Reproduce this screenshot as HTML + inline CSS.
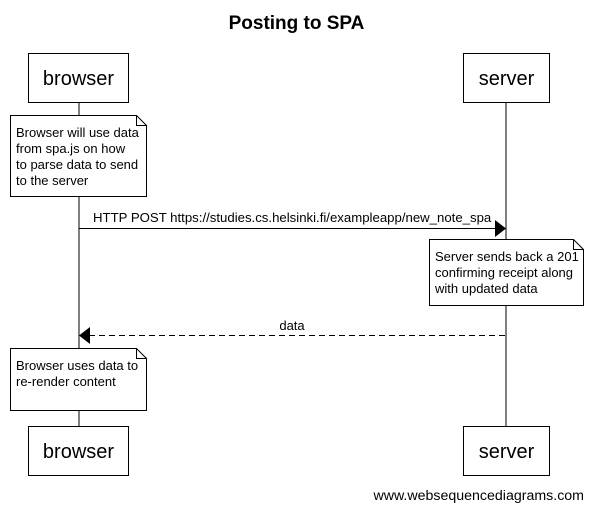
<!DOCTYPE html>
<html><head><style>body{margin:0;background:#fff}</style></head><body>
<svg width="593" height="511" xmlns="http://www.w3.org/2000/svg" font-family="Liberation Sans, Arial, sans-serif">
<rect width="593" height="511" fill="#fff"/>
<text x="296.5" y="29" text-anchor="middle" font-size="19" font-weight="bold">Posting to SPA</text>
<line x1="79" y1="102" x2="79" y2="426" stroke="#000"/>
<line x1="506" y1="102" x2="506" y2="426" stroke="#000"/>
<rect x="28.5" y="53.5" width="100" height="49" fill="#fff" stroke="#000"/>
<text x="78.5" y="85" text-anchor="middle" font-size="20">browser</text>
<rect x="463.5" y="53.5" width="86" height="49" fill="#fff" stroke="#000"/>
<text x="506.5" y="85" text-anchor="middle" font-size="20">server</text>
<rect x="28.5" y="426.5" width="100" height="49" fill="#fff" stroke="#000"/>
<text x="78.5" y="458" text-anchor="middle" font-size="20">browser</text>
<rect x="463.5" y="426.5" width="86" height="49" fill="#fff" stroke="#000"/>
<text x="506.5" y="458" text-anchor="middle" font-size="20">server</text>
<path d="M10.5 115.5H136.5L146.5 125.5V196.5H10.5Z M136.5 115.5V125.5H146.5" fill="#fff" stroke="#000"/>
<g font-size="13"><text x="16" y="137">Browser will use data</text><text x="16" y="153">from spa.js on how</text><text x="16" y="169">to parse data to send</text><text x="16" y="185">to the server</text></g>
<line x1="79" y1="228.5" x2="496" y2="228.5" stroke="#000"/>
<path d="M495 220L506 228.5L495 237Z" fill="#000"/>
<text x="93" y="222" font-size="13.2">HTTP POST https://studies.cs.helsinki.fi/exampleapp/new_note_spa</text>
<path d="M429.5 239.5H573.5L583.5 249.5V305.5H429.5Z M573.5 239.5V249.5H583.5" fill="#fff" stroke="#000"/>
<g font-size="13"><text x="435" y="261">Server sends back a 201</text><text x="435" y="277">confirming receipt along</text><text x="435" y="293">with updated data</text></g>
<line x1="89" y1="335.5" x2="506" y2="335.5" stroke="#000" stroke-dasharray="6,4"/>
<path d="M90 327L79 335.5L90 344Z" fill="#000"/>
<text x="292" y="330" text-anchor="middle" font-size="13">data</text>
<path d="M10.5 348.5H136.5L146.5 358.5V410.5H10.5Z M136.5 348.5V358.5H146.5" fill="#fff" stroke="#000"/>
<g font-size="13"><text x="16" y="370">Browser uses data to</text><text x="16" y="386">re-render content</text></g>
<text x="584" y="500" text-anchor="end" font-size="14.2">www.websequencediagrams.com</text>
</svg>
</body></html>
